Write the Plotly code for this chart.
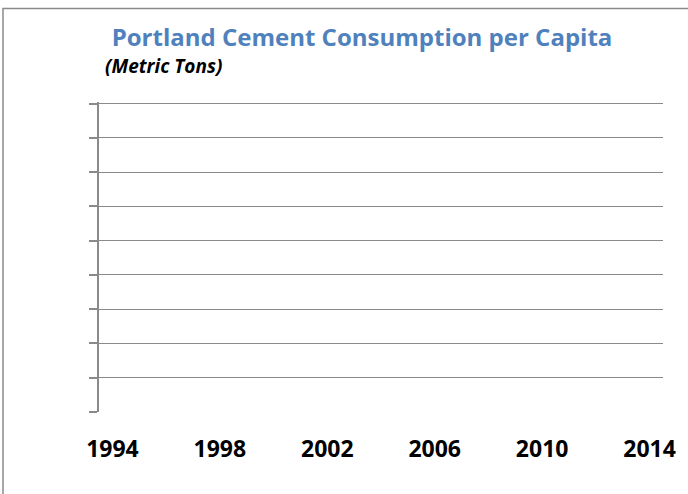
import plotly.graph_objects as go

# Data (the reference chart shows no plotted values)
years = [1994, 1995, 1996, 1997, 1998, 1999, 2000, 2001, 2002, 2003, 2004,
         2005, 2006, 2007, 2008, 2009, 2010, 2011, 2012, 2013, 2014]
consumption = [None, None, None, None, None, None, None, None, None, None, None,
               None, None, None, None, None, None, None, None, None, None]
tick_years = [1994, 1998, 2002, 2006, 2010, 2014]
y_ticks = [0, 0.05, 0.10, 0.15, 0.20, 0.25, 0.30, 0.35, 0.40, 0.45]

title_text = "Portland Cement Consumption per Capita"
subtitle_text = "(Metric Tons)"

GREY = "#8a8a8a"
W, H = 688, 494
# small headroom above the top tick so its gridline is drawn
Y_TOP = 0.4525
L, R, B = 99, 25, 82
T = 104 - 308 * (Y_TOP - 0.45) / 0.45

fig = go.Figure()
fig.add_trace(go.Scatter(x=years, y=consumption, mode="lines",
                         line=dict(color="#4F81BD", width=2),
                         showlegend=False, hoverinfo="skip"))

pw, ph = W - L - R, H - T - B

fig.update_layout(
    width=W, height=H,
    margin=dict(l=L, r=R, t=T, b=B, pad=0),
    paper_bgcolor="white", plot_bgcolor="white",
    showlegend=False,
    title=dict(text="<b>" + title_text + "</b>",
               font=dict(family="Open Sans", size=24, color="#4F81BD"),
               xref="container", yref="container",
               x=362 / W, xanchor="center",
               y=1 - 38 / H, yanchor="middle"),
    xaxis=dict(range=[1993.5, 2014.5], tickmode="array",
               tickvals=tick_years, ticktext=["<b>%d</b>" % v for v in tick_years],
               showgrid=False, zeroline=False, showline=False,
               ticks="", ticklabelstandoff=21,
               tickfont=dict(family="Open Sans", size=23, color="black")),
    yaxis=dict(range=[0, Y_TOP], tickmode="array", tickvals=y_ticks,
               showticklabels=False, showgrid=True, gridcolor=GREY, gridwidth=1,
               zeroline=False, showline=True, linecolor=GREY, linewidth=1.5,
               ticks="outside", ticklen=8, tickcolor=GREY, tickwidth=1.5),
)

fig.add_annotation(text="<b><i>" + subtitle_text + "</i></b>",
                   xref="paper", yref="paper",
                   x=(103 - L) / pw, xanchor="left",
                   y=(H - B - 66) / ph, yanchor="middle",
                   showarrow=False,
                   font=dict(family="Open Sans", size=19, color="black"))

# chart border (left and top edges visible in the reference)
fig.add_shape(type="rect", xref="paper", yref="paper",
              x0=(3 - L) / pw, x1=(W + 20 - L) / pw,
              y0=(H - B - (H + 20)) / ph, y1=(H - B - 9) / ph,
              line=dict(color=GREY, width=1.5), fillcolor="rgba(0,0,0,0)",
              layer="above")

fig.write_html("out.html",
               config={"displayModeBar": False},
               post_script="document.body.style.margin='0';document.body.style.overflow='hidden';")
